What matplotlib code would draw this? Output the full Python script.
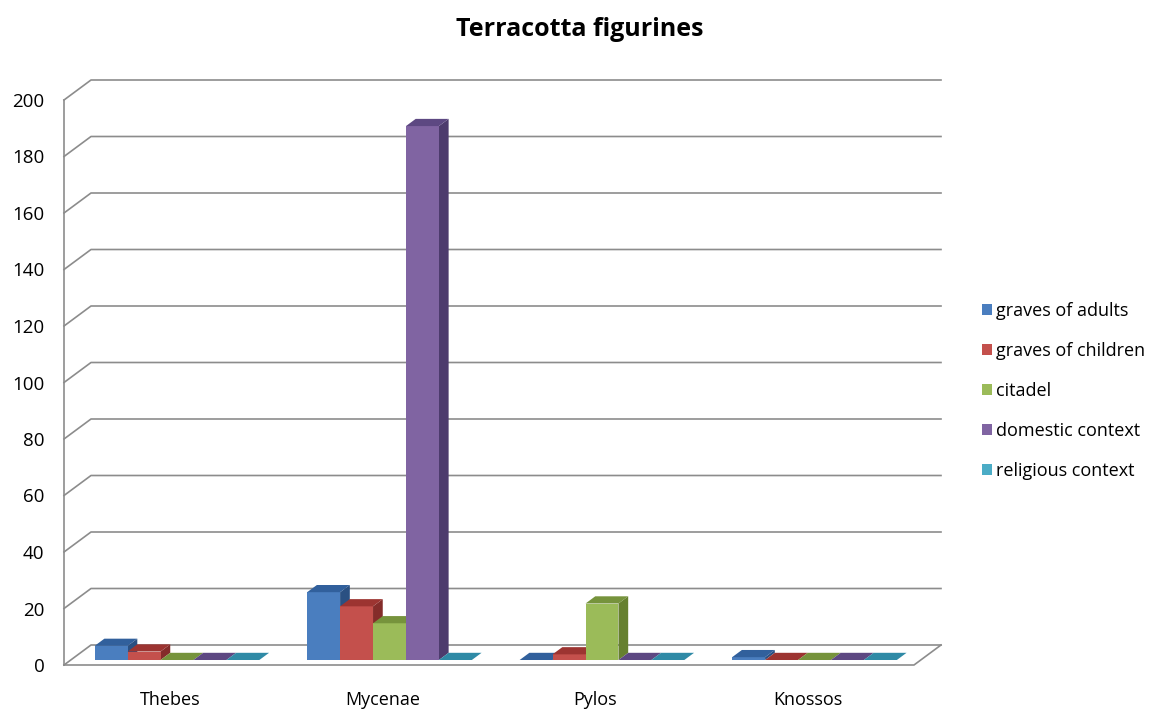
import matplotlib.pyplot as plt
from matplotlib.patches import Polygon, Patch
import matplotlib

matplotlib.rcParams.update({'font.family': 'Open Sans'})

sites = ['Thebes', 'Mycenae', 'Pylos', 'Knossos']
series = ['graves of adults', 'graves of children', 'citadel',
          'domestic context', 'religious context']
graves_adults = [5, 24, 0, 1]
graves_children = [3, 19, 2, 0]
citadel = [0, 13, 20, 0]
domestic = [0, 189, 0, 0]
religious = [0, 0, 0, 0]
values = [graves_adults, graves_children, citadel, domestic, religious]
yticks = list(range(0, 201, 20))

# front / top / side colours per series
front = ['#4a7ebf', '#c4504c', '#9bbb59', '#8064a2', '#4bacc6']
top = ['#31609c', '#9c3431', '#76933c', '#5d4882', '#2f8aa6']
side = ['#2a5082', '#842c2a', '#66802f', '#4d3b6d', '#287690']
grid = '#8c8c8c'

fig = plt.figure(figsize=(11.59, 7.15), dpi=100)
W, H = 1159, 715
ax = fig.add_axes([64 / W, (H - 665) / H, (914 - 64) / W, (665 - 100) / H])
ax.set_xlim(0, 4)
ax.set_ylim(0, 200)

# oblique depth of the back wall, in data units
px_x = (914 - 64) / 4
px_y = (665 - 100) / 200
wall_dx = 27 / px_x
wall_dy = 20 / px_y


def P(x, y, d):
    return (x + d * wall_dx, y + d * wall_dy)


# walls and gridlines
for v in yticks:
    a, b, c = P(0, v, 0), P(0, v, 1), P(4, v, 1)
    ax.plot([a[0], b[0], c[0]], [a[1], b[1], c[1]], color=grid, lw=1.2,
            clip_on=False, zorder=1)
ax.plot([0, 0], [0, 200], color=grid, lw=1.2, clip_on=False, zorder=1)
f = [P(0, 0, 0), P(4, 0, 0), P(4, 0, 1)]
ax.plot([p[0] for p in f], [p[1] for p in f], color=grid, lw=1.2,
        clip_on=False, zorder=1)

# 3d-looking clustered bars
bw = 0.155
g0 = (1 - 5 * bw) / 2
d0, dd = 0.25, 0.36
for i in range(len(sites)):
    for j in range(len(series)):
        v = values[j][i]
        x0 = i + g0 + j * bw
        x1 = x0 + bw
        fr = [P(x0, 0, d0), P(x1, 0, d0), P(x1, v, d0), P(x0, v, d0)]
        tp = [P(x0, v, d0), P(x1, v, d0), P(x1, v, d0 + dd), P(x0, v, d0 + dd)]
        sd = [P(x1, 0, d0), P(x1, 0, d0 + dd), P(x1, v, d0 + dd), P(x1, v, d0)]
        z = 2 + i * 10 + j
        ax.add_patch(Polygon(sd, closed=True, fc=side[j], ec='none', zorder=z, clip_on=False))
        ax.add_patch(Polygon(fr, closed=True, fc=front[j], ec='none', zorder=z, clip_on=False))
        ax.add_patch(Polygon(tp, closed=True, fc=top[j], ec='none', zorder=z, clip_on=False))

for s in ax.spines.values():
    s.set_visible(False)
ax.set_yticks(yticks)
ax.set_yticklabels([str(t) for t in yticks], fontsize=13.5)
ax.set_xticks([i + 0.5 for i in range(len(sites))])
ax.set_xticklabels(sites, fontsize=13)
ax.tick_params(axis='y', length=0, pad=14)
ax.tick_params(axis='x', length=0, pad=19)

fig.text(0.5, 1 - 30 / H, 'Terracotta figurines', ha='center', va='center',
         fontsize=18, fontweight='bold')

handles = [Patch(fc=front[j], ec='none') for j in range(len(series))]
fig.legend(handles, series, loc='center left',
           bbox_to_anchor=(973 / W, 1 - 391 / H), frameon=False,
           fontsize=13, handlelength=0.55, handleheight=0.55,
           handletextpad=0.25, labelspacing=1.22, borderpad=0)

fig.savefig('out.png', dpi=100)
